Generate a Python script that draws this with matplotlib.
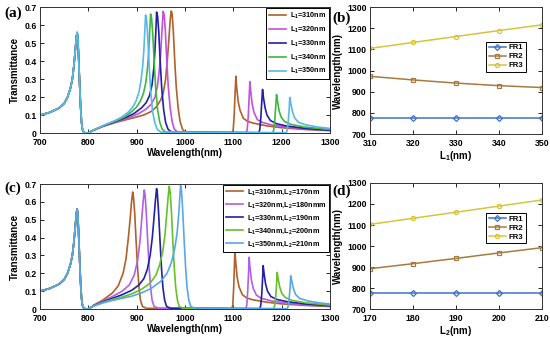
import matplotlib
matplotlib.use('Agg')
import matplotlib.pyplot as plt

plt.rcParams['font.family'] = ['Liberation Sans', 'DejaVu Sans']
plt.rcParams['font.weight'] = 'bold'
plt.rcParams['mathtext.fontset'] = 'custom'
plt.rcParams['mathtext.rm'] = 'Liberation Sans:bold'
plt.rcParams['mathtext.bf'] = 'Liberation Sans:bold'
plt.rcParams['mathtext.default'] = 'bf'

# shared FR1 part of every spectrum (700-808 nm)
wl_common = [700, 720, 740, 750, 757, 763, 767, 770, 773, 775.5, 777, 778.5, 780, 782, 784, 786, 788, 791, 798, 803, 808]
t_common = [0.10, 0.115, 0.14, 0.165, 0.2, 0.25, 0.3, 0.37, 0.46, 0.54, 0.56, 0.52, 0.42, 0.28, 0.15, 0.06, 0.02, 0.003, 0.0, 0.005, 0.013]

# panel (a): L1 sweep
wl_a310 = [830, 860, 886, 914, 930, 941, 950, 955, 960, 964, 967, 969.5, 971.7, 973.5, 976, 979, 982, 986, 990, 995, 1000, 1050, 1098,
           1100, 1102, 1104, 1105.5, 1107, 1110, 1114, 1121, 1130, 1141, 1170, 1200, 1250, 1300]
t_a310 = [0.037, 0.062, 0.08, 0.1, 0.12, 0.146, 0.185, 0.22, 0.3, 0.42, 0.53, 0.63, 0.68, 0.665, 0.57, 0.4, 0.26, 0.14, 0.065, 0.022, 0.006, 0.004, 0.002,
          0.02, 0.1, 0.23, 0.317, 0.26, 0.18, 0.128, 0.082, 0.065, 0.056, 0.04, 0.03, 0.02, 0.014]
wl_a320 = [830, 860, 886, 905, 920, 930, 938, 943, 947, 950, 952.5, 955, 957, 959.5, 962.5, 965.5, 969.5, 973.5, 978, 985, 1050, 1127,
           1129, 1131, 1133, 1134.5, 1136, 1139, 1143, 1150, 1160, 1180, 1210, 1250, 1300]
t_a320 = [0.038, 0.065, 0.088, 0.11, 0.135, 0.16, 0.2, 0.26, 0.35, 0.45, 0.57, 0.678, 0.66, 0.57, 0.4, 0.26, 0.14, 0.065, 0.022, 0.006, 0.004, 0.002,
          0.02, 0.09, 0.2, 0.286, 0.24, 0.165, 0.115, 0.075, 0.06, 0.045, 0.033, 0.022, 0.015]
wl_a330 = [830, 860, 880, 895, 910, 920, 927, 932, 935.5, 938, 940, 941.4, 943.5, 946, 949, 952, 956, 960, 965, 972, 1050, 1153,
           1155, 1157, 1159, 1160.7, 1162.5, 1166, 1170, 1177, 1190, 1210, 1250, 1300]
t_a330 = [0.039, 0.068, 0.09, 0.11, 0.14, 0.17, 0.21, 0.27, 0.36, 0.46, 0.58, 0.674, 0.65, 0.56, 0.39, 0.25, 0.13, 0.06, 0.022, 0.006, 0.004, 0.002,
          0.02, 0.08, 0.17, 0.243, 0.2, 0.14, 0.1, 0.07, 0.052, 0.04, 0.026, 0.016]
wl_a340 = [830, 860, 875, 890, 900, 908, 914, 919, 922.5, 925, 927, 929, 931, 933.5, 936.5, 939.5, 943.5, 948, 953, 960, 1050, 1182,
           1184, 1186, 1188, 1189.7, 1191.5, 1195, 1199, 1206, 1220, 1250, 1300]
t_a340 = [0.04, 0.071, 0.09, 0.12, 0.145, 0.18, 0.22, 0.28, 0.36, 0.45, 0.56, 0.663, 0.64, 0.55, 0.39, 0.25, 0.13, 0.06, 0.022, 0.006, 0.004, 0.002,
          0.02, 0.07, 0.15, 0.215, 0.18, 0.125, 0.09, 0.065, 0.048, 0.033, 0.02]
wl_a350 = [830, 855, 870, 882, 892, 899, 905, 909, 912.5, 915, 917, 918.6, 920.5, 923, 926, 929, 933, 938, 943, 950, 1050, 1210,
           1212, 1214, 1216, 1217, 1219, 1222.5, 1227, 1235, 1250, 1275, 1300]
t_a350 = [0.041, 0.07, 0.09, 0.115, 0.145, 0.18, 0.23, 0.29, 0.37, 0.46, 0.57, 0.657, 0.635, 0.54, 0.38, 0.24, 0.12, 0.055, 0.02, 0.006, 0.004, 0.002,
          0.02, 0.07, 0.14, 0.199, 0.17, 0.12, 0.085, 0.06, 0.046, 0.034, 0.026]

# panel (c): L1 and L2 sweep
wl_c310 = [810, 830, 850, 862, 872, 878, 883, 886.5, 889.5, 891.8, 893.5, 896, 899, 902, 905, 908, 912, 920, 1050, 1097,
           1099, 1101, 1102.5, 1103.5, 1105, 1108, 1112, 1119, 1128, 1140, 1170, 1200, 1250, 1300]
t_c310 = [0.02, 0.05, 0.09, 0.13, 0.2, 0.28, 0.4, 0.5, 0.6, 0.655, 0.63, 0.54, 0.38, 0.23, 0.12, 0.05, 0.015, 0.004, 0.003, 0.002,
          0.02, 0.12, 0.25, 0.33, 0.27, 0.18, 0.125, 0.08, 0.062, 0.052, 0.038, 0.029, 0.02, 0.014]
wl_c320 = [810, 830, 850, 870, 885, 895, 902, 907, 910.5, 913.5, 915.9, 917.5, 920, 923, 926, 929, 932, 936, 945, 1050, 1126,
           1128, 1130, 1132, 1133, 1134.5, 1137.5, 1141.5, 1148, 1158, 1180, 1210, 1250, 1300]
t_c320 = [0.018, 0.045, 0.07, 0.1, 0.135, 0.19, 0.27, 0.38, 0.5, 0.6, 0.666, 0.64, 0.54, 0.38, 0.23, 0.12, 0.05, 0.015, 0.004, 0.003, 0.002,
          0.02, 0.1, 0.22, 0.29, 0.24, 0.165, 0.115, 0.078, 0.06, 0.045, 0.033, 0.023, 0.016]
wl_c330 = [810, 830, 850, 870, 890, 905, 915, 922, 928, 932.5, 936, 939, 941.4, 943, 945.5, 948.5, 951.5, 954.5, 958, 962, 970, 1050, 1155,
           1157, 1159, 1161, 1162, 1163.8, 1167, 1171, 1178, 1190, 1210, 1250, 1300]
t_c330 = [0.017, 0.04, 0.06, 0.08, 0.105, 0.135, 0.17, 0.22, 0.3, 0.4, 0.51, 0.61, 0.674, 0.645, 0.54, 0.38, 0.23, 0.12, 0.05, 0.015, 0.004, 0.003, 0.002,
          0.02, 0.08, 0.18, 0.243, 0.2, 0.14, 0.1, 0.07, 0.054, 0.042, 0.028, 0.018]
wl_c340 = [810, 830, 850, 870, 890, 910, 928, 940, 948, 954, 958.5, 962, 965, 967.6, 969.5, 972, 975, 978, 981, 984.5, 988, 996, 1050, 1184,
           1186, 1188, 1190, 1191, 1193, 1196.5, 1200.5, 1208, 1222, 1250, 1300]
t_c340 = [0.016, 0.037, 0.053, 0.067, 0.085, 0.11, 0.145, 0.19, 0.25, 0.32, 0.41, 0.52, 0.62, 0.687, 0.655, 0.55, 0.38, 0.23, 0.12, 0.05, 0.015, 0.004, 0.003, 0.002,
          0.02, 0.07, 0.15, 0.205, 0.17, 0.12, 0.088, 0.064, 0.048, 0.035, 0.022]
wl_c350 = [810, 830, 850, 870, 890, 910, 930, 950, 963, 972, 979, 984, 987.5, 989.5, 991.1, 993, 995.5, 998.5, 1001.5, 1004.5, 1008, 1012, 1020, 1050, 1212,
           1214, 1216, 1218, 1219, 1221, 1224.5, 1229, 1237, 1255, 1280, 1300]
t_c350 = [0.015, 0.034, 0.048, 0.06, 0.072, 0.09, 0.115, 0.155, 0.2, 0.26, 0.34, 0.43, 0.54, 0.63, 0.693, 0.66, 0.55, 0.38, 0.23, 0.12, 0.05, 0.015, 0.004, 0.003, 0.002,
          0.02, 0.065, 0.13, 0.186, 0.16, 0.115, 0.082, 0.06, 0.045, 0.034, 0.028]

# panels (b) and (d): resonance positions
L1 = [310, 320, 330, 340, 350]
b_fr1 = [776, 776, 776, 776, 776]
b_fr2 = [973, 956, 941, 929, 920]
b_fr3 = [1105, 1133, 1161, 1189, 1216]
L2 = [170, 180, 190, 200, 210]
d_fr1 = [776, 776, 776, 776, 776]
d_fr2 = [892, 916, 941, 967, 992]
d_fr3 = [1103, 1132, 1161, 1190, 1219]

labels_a = ['L$_1$=310nm', 'L$_1$=320nm', 'L$_1$=330nm', 'L$_1$=340nm', 'L$_1$=350nm']
labels_c = ['L$_1$=310nm,L$_2$=170nm', 'L$_1$=320nm,L$_2$=180nmm', 'L$_1$=330nm,L$_2$=190nm',
            'L$_1$=340nm,L$_2$=200nm', 'L$_1$=350nm,L$_2$=210nm']
colors_a = ['#b0602a', '#c250e0', '#2020a8', '#3cb83c', '#58b8e8']
colors_c = ['#b0602a', '#b060e6', '#2020a8', '#66c02a', '#58a8e8']

fig = plt.figure(figsize=(5.5, 3.37), dpi=100)
ax_a = fig.add_axes([0.0727, 0.605, 0.527, 0.373])
ax_b = fig.add_axes([0.673, 0.602, 0.312, 0.377])
ax_c = fig.add_axes([0.0727, 0.083, 0.527, 0.371])
ax_d = fig.add_axes([0.673, 0.083, 0.312, 0.374])


def style(ax):
    ax.tick_params(direction='in', top=True, right=True, labelsize=6.3, length=3, width=0.6, pad=2.5)
    ax.tick_params(axis='x', pad=3.5)
    for s in ax.spines.values():
        s.set_linewidth(0.7)
        s.set_color('#333333')


def spectra(ax, wls, ts, colors, labels):
    for wl, t, c, lab in zip(wls, ts, colors, labels):
        ax.plot(wl_common + wl, t_common + t, color=c, lw=1.2, label=lab)
    ax.set_xlim(700, 1300)
    ax.set_ylim(0, 0.7)
    ax.set_xticks([700, 800, 900, 1000, 1100, 1200, 1300])
    ax.set_yticks([0, 0.1, 0.2, 0.3, 0.4, 0.5, 0.6, 0.7])
    ax.set_yticklabels(['0', '0.1', '0.2', '0.3', '0.4', '0.5', '0.6', '0.7'])
    ax.set_xlabel('Wavelength(nm)', fontsize=7, fontweight='bold', labelpad=0.5)
    ax.set_ylabel('Transmittance', fontsize=7, fontweight='bold', labelpad=3)
    leg = ax.legend(loc='upper right', borderaxespad=0.1, handlelength=2.4,
                    labelspacing=0.5, borderpad=0.4, handletextpad=0.5,
                    fancybox=False, edgecolor='black', framealpha=1,
                    prop={'weight': 'bold', 'size': 5.2})
    leg.get_frame().set_linewidth(0.7)
    style(ax)


def positions(ax, x, fr1, fr2, fr3, xlabel, anchor):
    ax.plot(x, fr1, color='#3f72c8', marker='D', ms=3, lw=1.1, mfc='none', mew=0.9, label='FR1')
    ax.plot(x, fr2, color='#a57c3e', marker='s', ms=2.5, lw=1.1, mfc='none', mew=0.9, label='FR2')
    ax.plot(x, fr3, color='#d6c53a', marker='o', ms=3, lw=1.1, mfc='none', mew=0.9, label='FR3')
    ax.set_xlim(x[0], x[-1])
    ax.set_ylim(700, 1300)
    ax.set_xticks(x)
    ax.set_yticks([700, 800, 900, 1000, 1100, 1200, 1300])
    ax.set_xlabel(xlabel, fontsize=7, fontweight='bold', labelpad=0.5)
    ax.set_ylabel('Wavelength(nm)', fontsize=7, fontweight='bold', labelpad=3)
    leg = ax.legend(loc='center right', bbox_to_anchor=anchor, handlelength=2.2,
                    labelspacing=0.2, borderpad=0.3, handletextpad=0.4,
                    fancybox=False, edgecolor='black', framealpha=1,
                    prop={'weight': 'bold', 'size': 5.6})
    leg.get_frame().set_linewidth(0.7)
    style(ax)


spectra(ax_a, [wl_a310, wl_a320, wl_a330, wl_a340, wl_a350],
        [t_a310, t_a320, t_a330, t_a340, t_a350], colors_a, labels_a)
spectra(ax_c, [wl_c310, wl_c320, wl_c330, wl_c340, wl_c350],
        [t_c310, t_c320, t_c330, t_c340, t_c350], colors_c, labels_c)
positions(ax_b, L1, b_fr1, b_fr2, b_fr3, 'L$_1$(nm)', (0.93, 0.61))
positions(ax_d, L2, d_fr1, d_fr2, d_fr3, 'L$_2$(nm)', (0.93, 0.64))

for lab, x, y in [('(a)', 0.008, 0.962), ('(b)', 0.604, 0.945), ('(c)', 0.008, 0.44), ('(d)', 0.604, 0.432)]:
    fig.text(x, y, lab, fontsize=11, fontweight='bold', family='Liberation Serif', va='center')

fig.savefig('out.png', dpi=100)
